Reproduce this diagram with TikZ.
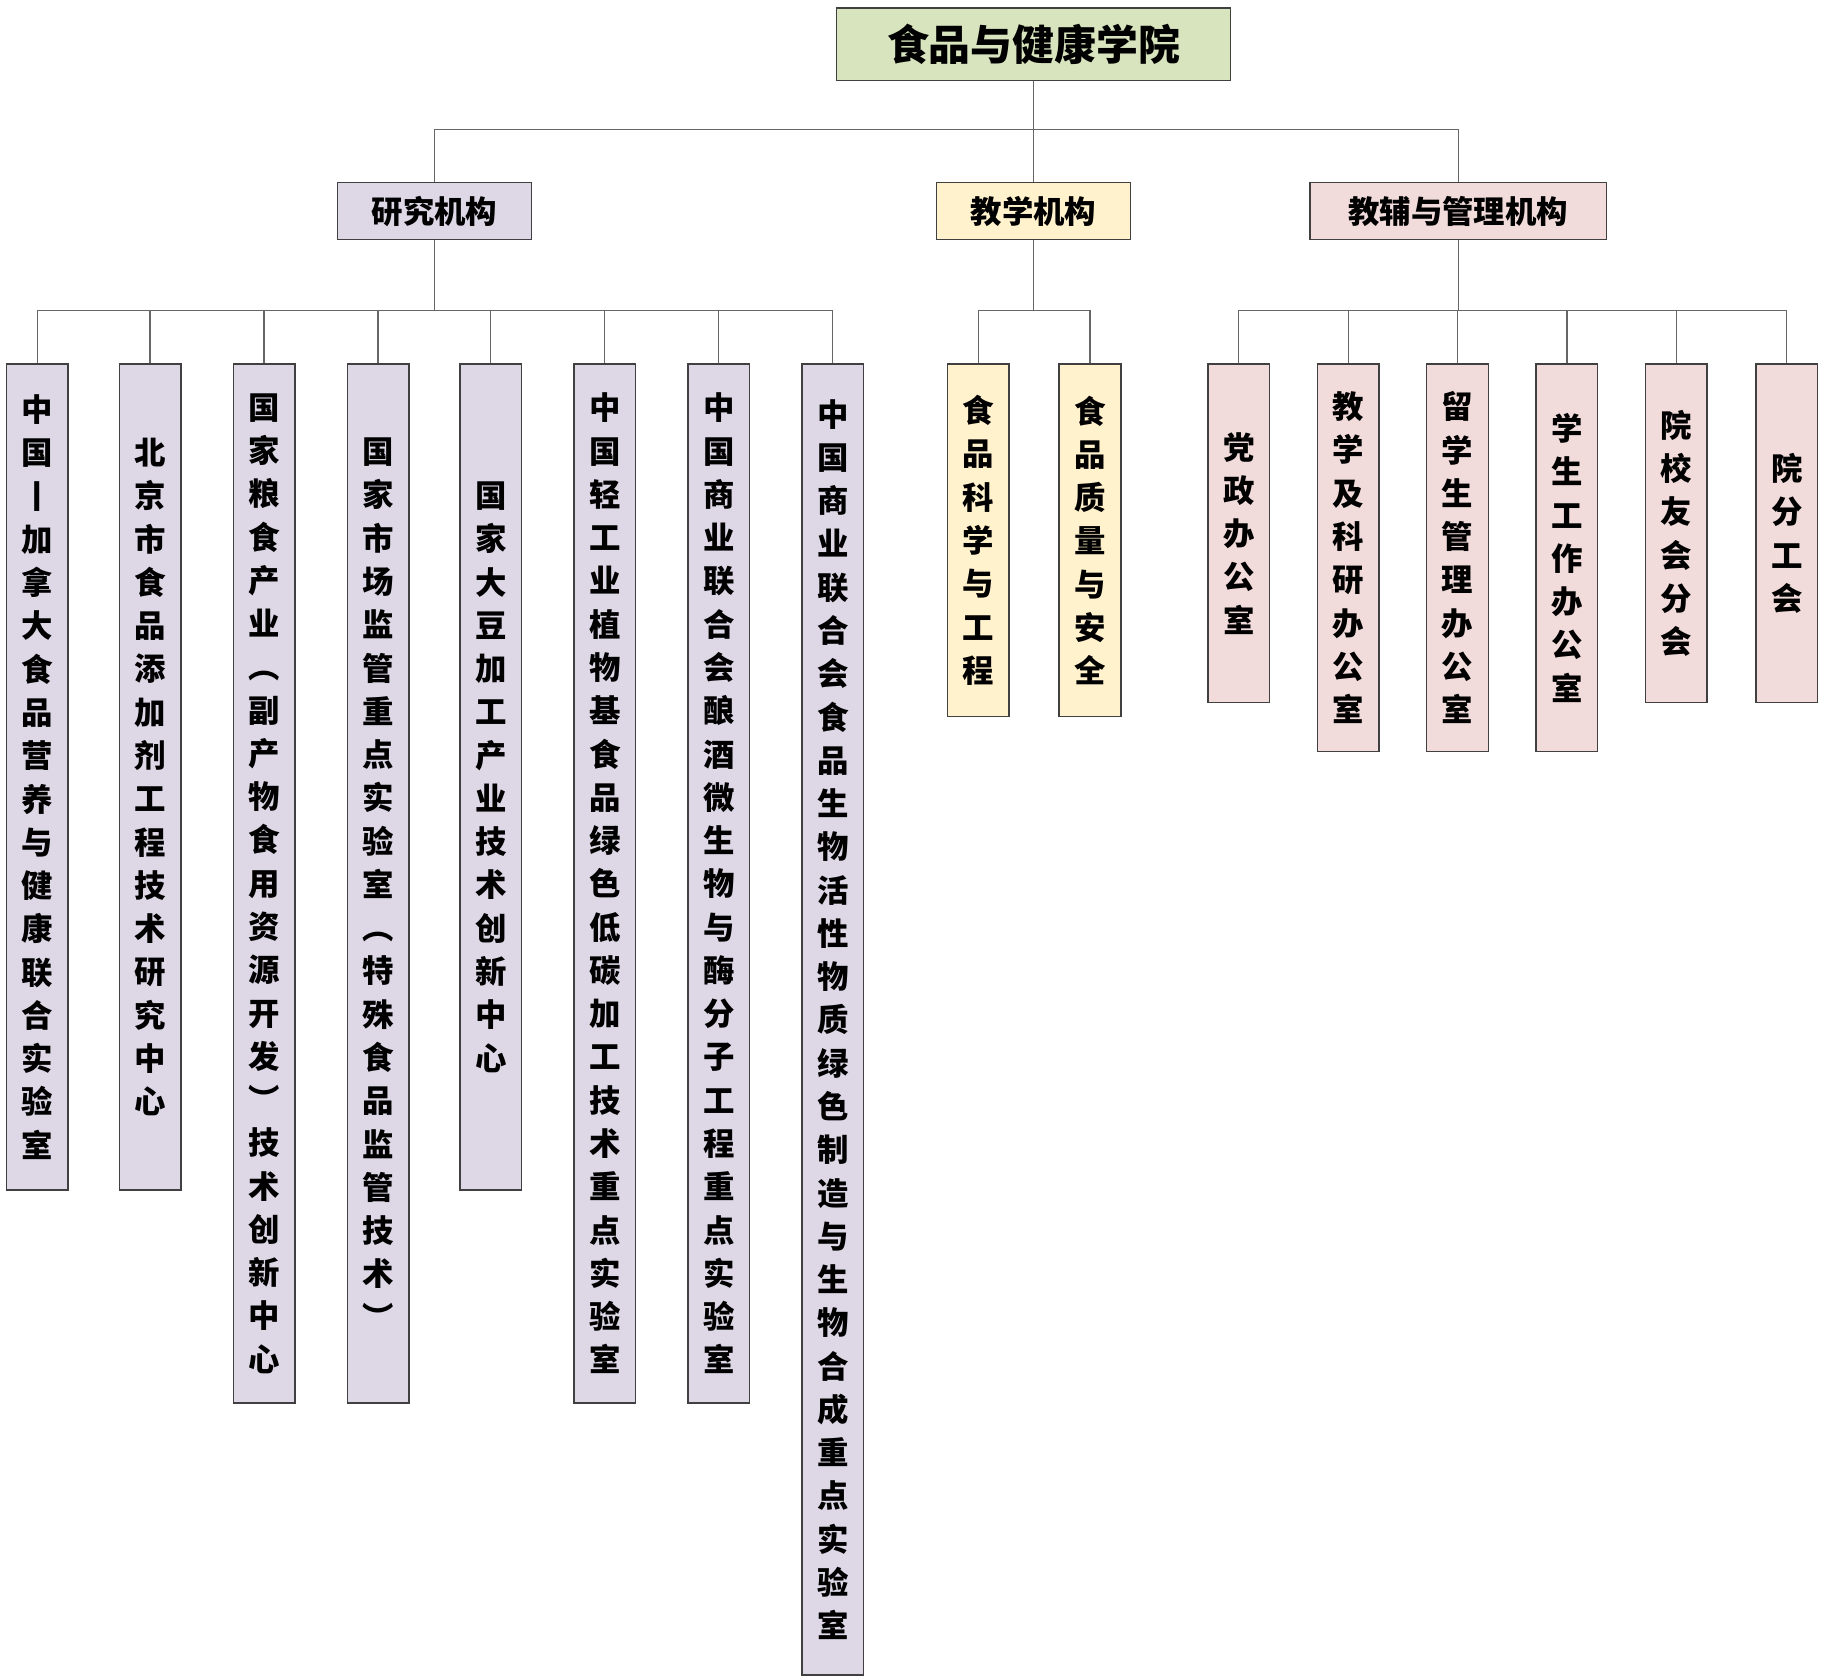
\documentclass[tikz,border=0pt]{standalone}
\usepackage{fontspec}
\setmainfont{Noto Sans CJK SC}
\definecolor{cp}{HTML}{DDD7E6}
\definecolor{cy}{HTML}{FFF2CC}
\definecolor{ck}{HTML}{F2DCDB}
\definecolor{cg}{HTML}{D7E4BD}
\def\vt#1{\vtfirst#1\relax}
\def\vtfirst#1{#1\vtrest}
\def\vtrest#1{\ifx#1\relax\else\\#1\expandafter\vtrest\fi}
\def\vtx#1{\expandafter\vt\expandafter{#1}}
\tikzset{box/.style={draw=black!75,line width=1.2pt,inner sep=0pt,font=\bfseries},
 vbox/.style={box,minimum width=53pt,align=center,font=\bfseries\fontsize{27}{37.2}\selectfont},
 ln/.style={draw=black!60,line width=1pt}}
\begin{document}
\begin{tikzpicture}[x=1pt,y=-1pt]
\useasboundingbox (0,0) rectangle (1568,1442);
\node[box,fill=cg,minimum width=339pt,minimum height=62pt,font=\bfseries\fontsize{36}{40}\selectfont] (root) at (888.5,38) {食品与健康学院};
\node[box,fill=cp,minimum width=167pt,minimum height=49pt,font=\bfseries\fontsize{27}{30}\selectfont] (r) at (373.5,181.5) {研究机构};
\node[box,fill=cy,minimum width=167pt,minimum height=49pt,font=\bfseries\fontsize{27}{30}\selectfont] (t) at (888.5,181.5) {教学机构};
\node[box,fill=ck,minimum width=255pt,minimum height=49pt,font=\bfseries\fontsize{27}{30}\selectfont] (a) at (1253.5,181.5) {教辅与管理机构};
\coordinate (b0) at (0,111);
\coordinate (b1) at (0,267);
\foreach \c in {r,t,a} \draw[ln] (root.south) |- (b0 -| \c.north) -- (\c.north);
% research
\foreach \n/\x/\bt/\s in {
 r1/32/1023/{中国丨加拿大食品营养与健康联合实验室},
 r2/129/1023/{北京市食品添加剂工程技术研究中心},
 r3/227/1206/{国家粮食产业︵副产物食用资源开发︶技术创新中心},
 r4/325/1206/{国家市场监管重点实验室︵特殊食品监管技术︶},
 r5/422/1023/{国家大豆加工产业技术创新中心},
 r6/520/1206/{中国轻工业植物基食品绿色低碳加工技术重点实验室},
 r7/618/1206/{中国商业联合会酿酒微生物与酶分子工程重点实验室},
 r8/716/1440/{中国商业联合会食品生物活性物质绿色制造与生物合成重点实验室}}{
 \node[vbox,fill=cp,minimum height={\bt-313}] (\n) at (\x,{(313+\bt)/2}) {\vtx\s};
 \draw[ln] (r.south) |- (b1 -| \n.north) -- (\n.north);
}
\foreach \n/\x/\bt/\s in {
 t1/841/616/{食品科学与工程},
 t2/937/616/{食品质量与安全}}{
 \node[vbox,fill=cy,minimum height={\bt-313}] (\n) at (\x,{(313+\bt)/2}) {\vtx\s};
 \draw[ln] (t.south) |- (b1 -| \n.north) -- (\n.north);
}
\foreach \n/\x/\bt/\s in {
 a1/1065/604/{党政办公室},
 a2/1159/646/{教学及科研办公室},
 a3/1253/646/{留学生管理办公室},
 a4/1347/646/{学生工作办公室},
 a5/1441/604/{院校友会分会},
 a6/1536/604/{院分工会}}{
 \node[vbox,fill=ck,minimum height={\bt-313}] (\n) at (\x,{(313+\bt)/2}) {\vtx\s};
 \draw[ln] (a.south) |- (b1 -| \n.north) -- (\n.north);
}
\end{tikzpicture}
\end{document}
